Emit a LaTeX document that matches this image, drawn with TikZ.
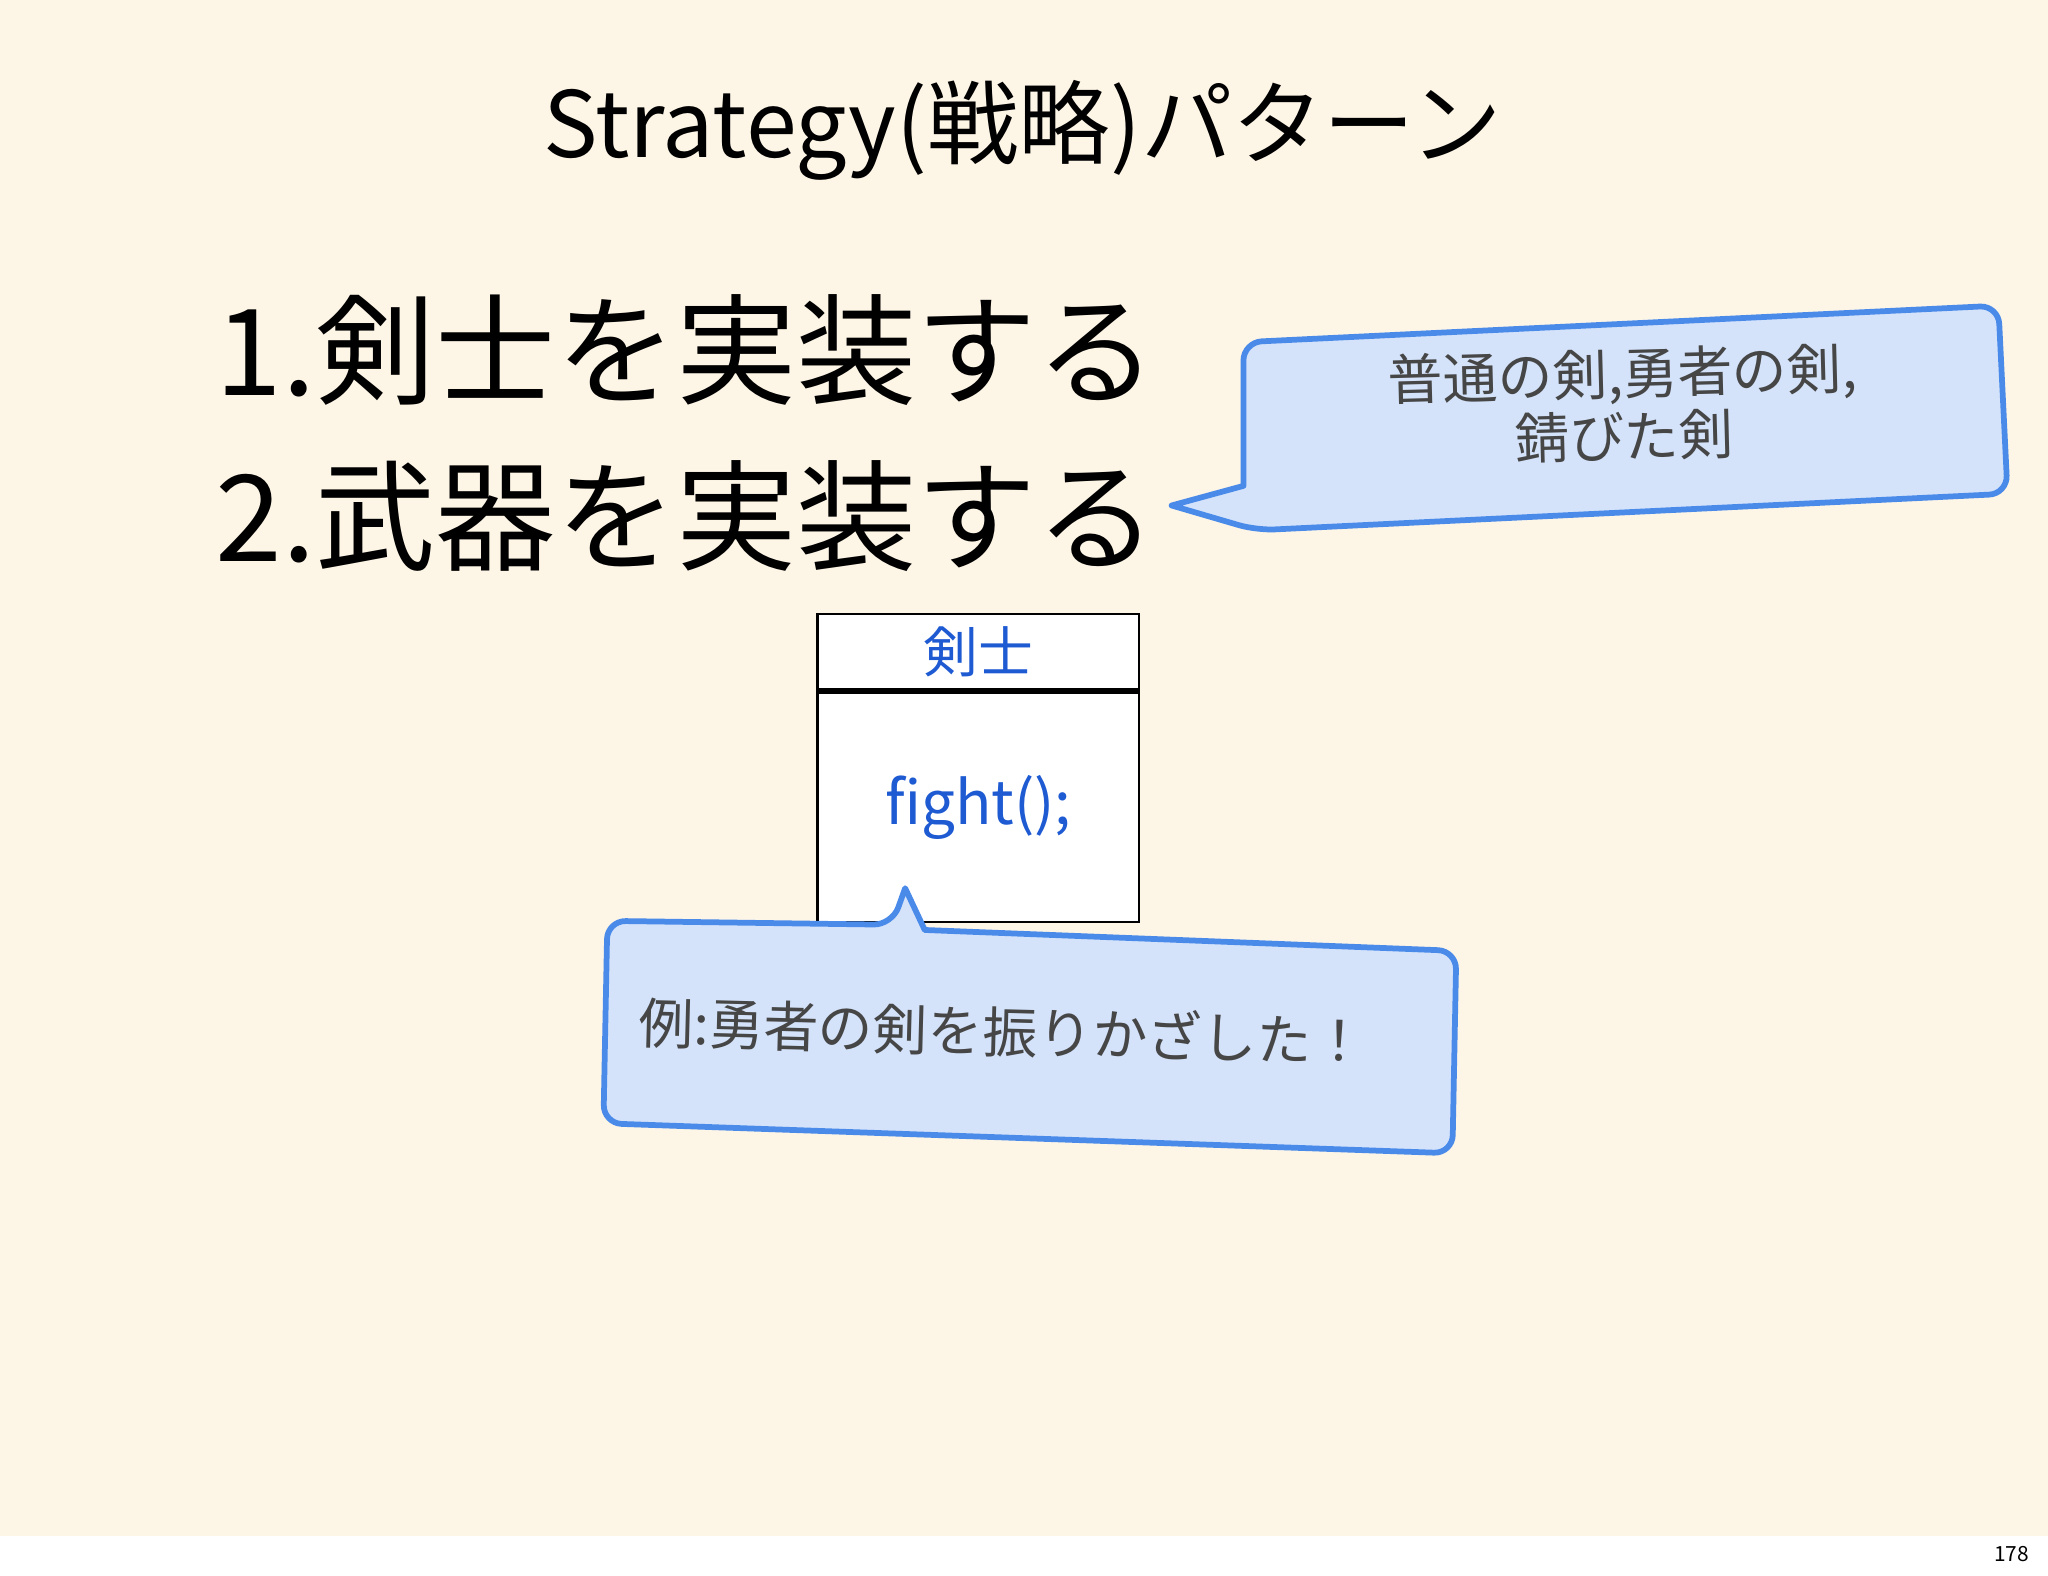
\documentclass[tikz,border=0pt]{standalone}
\usepackage{fontspec}
\setmainfont{Noto Sans CJK JP}
\begin{document}
\begin{tikzpicture}[x=0.5pt,y=-0.5pt,
  callout/.style={line width=2.2pt, fill={rgb,255:red,212;green,227;blue,250}, rounded corners=7pt, line join=round},
  bluetext/.style={text={rgb,255:red,30;green,90;blue,210}}]
\definecolor{cream}{RGB}{253,245,230}
\definecolor{cb}{RGB}{74,139,234}
\useasboundingbox (0,0) rectangle (1568,1206);
\fill[white] (0,0) rectangle (1568,1206);
\fill[cream] (0,0) rectangle (1568,1176);
\node (title) at (783,100) {\fontsize{35pt}{42pt}\selectfont Strategy(戦略)パターン};
\node[anchor=west] (l1) at (158,268) {\fontsize{46pt}{52pt}\selectfont 1.剣士を実装する};
\node[anchor=west] (l2) at (158,395) {\fontsize{46pt}{52pt}\selectfont 2.武器を実装する};
% callout 1
\draw[callout,draw=cb] (952,262) -- (1530,234) -- (1537,378) -- (962,406) [sharp corners]-- (897,387) -- (952,372) [rounded corners=7pt]-- cycle;
\node[align=center, text={rgb,255:red,70;green,70;blue,70}, font=\fontsize{21pt}{24pt}\selectfont, rotate=1.5] (c1) at (1243,310) {普通の剣,勇者の剣,\\錆びた剣};
% UML box
\node[draw, line width=1pt, fill=white, minimum width=123pt, minimum height=29pt, inner sep=0pt, bluetext] (head) at (749,499) {\fontsize{21pt}{24pt}\selectfont 剣士};
\node[draw, line width=1pt, fill=white, minimum width=123pt, minimum height=88pt, inner sep=0pt, anchor=north, bluetext] (body) at (head.south) {\fontsize{23pt}{26pt}\selectfont fight();};
% callout 2
\draw[callout,draw=cb] (465,705) -- (683,708) [sharp corners]-- (693,680) -- (708,712) [rounded corners=7pt]-- (1115,728) -- (1112,883) -- (462,860) -- cycle;
\node[text={rgb,255:red,70;green,70;blue,70}, rotate=-1.5, anchor=west] (c2) at (482,782) {\fontsize{21pt}{24pt}\selectfont 例:勇者の剣を振りかざした！};
\node (pg) at (1540,1190) {\fontsize{8pt}{9pt}\selectfont 178};
\end{tikzpicture}
\end{document}
